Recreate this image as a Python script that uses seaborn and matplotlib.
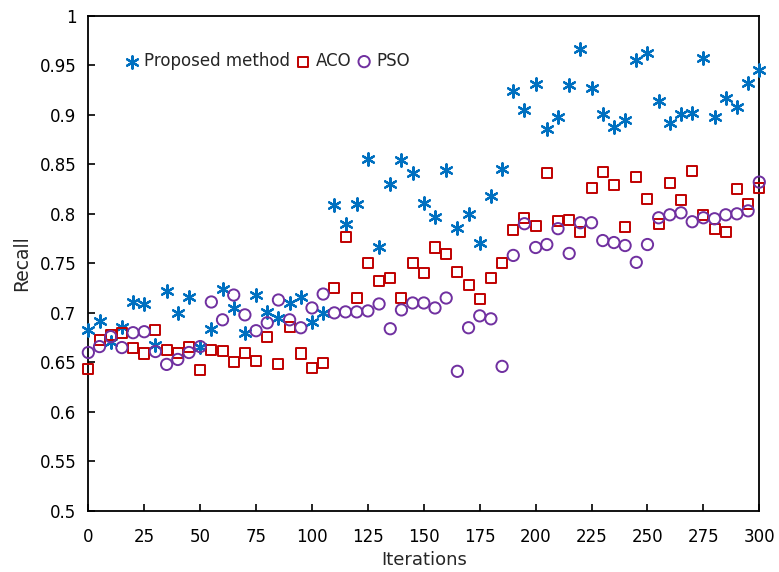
import numpy as np
import pandas as pd
import matplotlib
matplotlib.use("Agg")
import matplotlib.pyplot as plt
import seaborn as sns
from matplotlib.ticker import FuncFormatter, MultipleLocator

iterations = list(range(0, 301, 5))

proposed = [0.683, 0.692, 0.671, 0.686, 0.711, 0.709, 0.668, 0.722, 0.700, 0.716,
            0.666, 0.684, 0.724, 0.705, 0.680, 0.718, 0.701, 0.695, 0.710, 0.716,
            0.691, 0.700, 0.809, 0.790, 0.810, 0.855, 0.767, 0.830, 0.854, 0.841,
            0.811, 0.797, 0.844, 0.786, 0.800, 0.771, 0.818, 0.845, 0.924, 0.905,
            0.931, 0.886, 0.898, 0.930, 0.966, 0.927, 0.901, 0.888, 0.895, 0.955,
            0.962, 0.914, 0.892, 0.901, 0.902, 0.957, 0.898, 0.917, 0.908, 0.932,
            0.945]

aco = [0.643, 0.673, 0.678, 0.680, 0.665, 0.659, 0.683, 0.663, 0.660, 0.666,
       0.642, 0.663, 0.662, 0.650, 0.660, 0.651, 0.676, 0.648, 0.686, 0.659,
       0.644, 0.649, 0.725, 0.777, 0.715, 0.750, 0.732, 0.735, 0.715, 0.750,
       0.740, 0.766, 0.759, 0.741, 0.728, 0.714, 0.735, 0.750, 0.784, 0.796,
       0.788, 0.841, 0.793, 0.794, 0.782, 0.826, 0.842, 0.829, 0.787, 0.837,
       0.815, 0.790, 0.831, 0.814, 0.843, 0.799, 0.785, 0.782, 0.825, 0.810,
       0.826]

pso = [0.660, 0.666, 0.676, 0.665, 0.680, 0.681, 0.661, 0.648, 0.653, 0.660,
       0.666, 0.711, 0.693, 0.718, 0.698, 0.682, 0.690, 0.713, 0.693, 0.685,
       0.705, 0.719, 0.700, 0.701, 0.701, 0.702, 0.709, 0.684, 0.703, 0.710,
       0.710, 0.705, 0.715, 0.641, 0.685, 0.697, 0.694, 0.646, 0.758, 0.790,
       0.766, 0.769, 0.785, 0.760, 0.791, 0.791, 0.773, 0.771, 0.768, 0.751,
       0.769, 0.796, 0.799, 0.801, 0.792, 0.796, 0.795, 0.799, 0.800, 0.803,
       0.832]

series_names = ["Proposed method", "ACO", "PSO"]
colors = ["#0070C0", "#C00000", "#7030A0"]

df = pd.DataFrame({
    "Iterations": iterations * 3,
    "Recall": proposed + aco + pso,
    "Method": [series_names[0]] * len(iterations) + [series_names[1]] * len(iterations)
              + [series_names[2]] * len(iterations),
})

sns.set_style("ticks")
plt.rcParams['font.family'] = ['DejaVu Sans']

fig = plt.figure(figsize=(7.79, 5.72), dpi=100)
ax = fig.add_axes([0.1134, 0.1066, 0.8613, 0.866])

sub = df[df["Method"] == series_names[0]]
sns.scatterplot(data=sub, x="Iterations", y="Recall", ax=ax, marker=(6, 2, 0),
                s=80, color=colors[0], linewidths=1.6, label=series_names[0],
                clip_on=False, zorder=3)
sub = df[df["Method"] == series_names[1]]
sns.scatterplot(data=sub, x="Iterations", y="Recall", ax=ax, marker="s",
                s=52, facecolors="none", edgecolor=colors[1], linewidth=1.4,
                label=series_names[1], clip_on=False, zorder=3)
sub = df[df["Method"] == series_names[2]]
sns.scatterplot(data=sub, x="Iterations", y="Recall", ax=ax, marker="o",
                s=66, facecolors="none", edgecolor=colors[2], linewidth=1.4,
                label=series_names[2], clip_on=False, zorder=3)

ax.set_xlim(0, 300)
ax.set_ylim(0.5, 1.0)
ax.xaxis.set_major_locator(MultipleLocator(25))
ax.yaxis.set_major_locator(MultipleLocator(0.05))
ax.yaxis.set_major_formatter(FuncFormatter(lambda v, p: f"{round(v, 2):g}"))
ax.tick_params(direction="in", length=5, width=1.2, labelsize=12, colors="black")
ax.tick_params(axis="x", pad=12)
ax.tick_params(axis="y", pad=8.5)
for sp in ax.spines.values():
    sp.set_visible(True)
    sp.set_color("black")
    sp.set_linewidth(1.3)
ax.set_xlabel("Iterations", fontsize=13, labelpad=4)
ax.set_ylabel("Recall", fontsize=13.5, labelpad=6)

ax.legend(loc="center left", bbox_to_anchor=(0.056, 0.9085), ncol=3, frameon=False,
          handlelength=0.75, handletextpad=0.36, columnspacing=0.4, fontsize=12,
          borderaxespad=0, borderpad=0)

fig.savefig("out.png", dpi=100)
